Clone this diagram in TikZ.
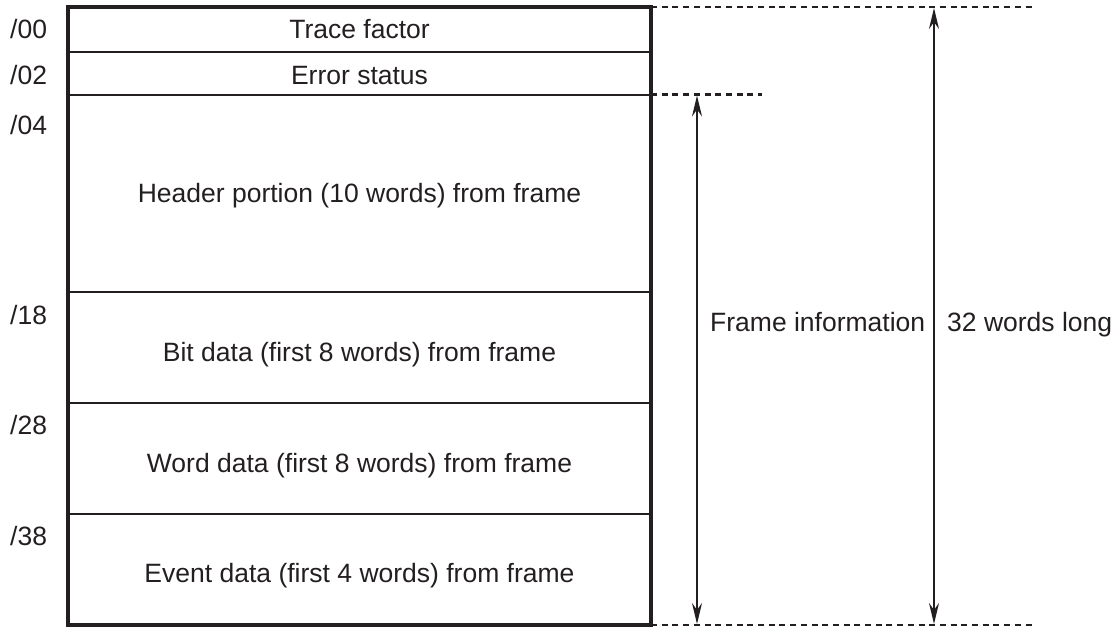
\documentclass[tikz,border=0pt]{standalone}
\usepackage{fontspec}
\setmainfont{Liberation Sans}
\usetikzlibrary{arrows.meta, positioning, calc}
\definecolor{inkgray}{HTML}{231F20}

\begin{document}
\begin{tikzpicture}[
        x=1pt, y=-1pt,
        field/.style={font=\fontsize{26.5}{30}\selectfont, text=inkgray,
                      inner sep=0pt, anchor=base},
        addr/.style={field, anchor=base west},
        rowline/.style={line width=2pt, color=inkgray},
        guide/.style={line width=2.2pt, color=inkgray,
                      dash pattern=on 6pt off 4.7pt},
        span/.style={line width=1.8pt, color=inkgray,
                     {Stealth[length=21pt, width=10pt, inset=7pt]}-{Stealth[length=21pt, width=10pt, inset=7pt]}}
      ]
      \useasboundingbox (0,0) rectangle (1119,627);
      % frame corners
      \coordinate (tl) at (68,7);
      \coordinate (br) at (651,625);
      \coordinate (tr) at (651,7);
      \coordinate (hdr) at (651,94.5);
      % rows
      \draw[rowline] (68,52) -- (651,52);
      \draw[rowline] (68,94.5) -- (hdr);
      \draw[rowline] (68,292) -- (651,292);
      \draw[rowline] (68,403) -- (651,403);
      \draw[rowline] (68,514) -- (651,514);
      \draw[line width=3.6pt, color=inkgray] (tl) rectangle (br);
      % field texts
      \node[field] (trace)  at (359.5,38)  {Trace factor};
      \node[field] (errst)  at (359.5,84)  {Error status};
      \node[field] (header) at (359.5,202) {Header portion (10 words) from frame};
      \node[field] (bitd)   at (359.5,361) {Bit data (first 8 words) from frame};
      \node[field] (wordd)  at (359.5,472) {Word data (first 8 words) from frame};
      \node[field] (eventd) at (359.5,582) {Event data (first 4 words) from frame};
      % addresses
      \node[addr] (a00) at (10,38)  {/00};
      \node[addr] (a02) at (10,84)  {/02};
      \node[addr] (a04) at (10,134) {/04};
      \node[addr] (a18) at (10,324) {/18};
      \node[addr] (a28) at (10,434) {/28};
      \node[addr] (a38) at (10,545) {/38};
      % extension lines
      \coordinate (toptail) at (1035,7);
      \coordinate (hdrtail) at (762,94.5);
      \coordinate (bottail) at (1035,625);
      \coordinate (bl) at (651,625);
      \draw[guide] (tr) -- (toptail);
      \draw[guide] (hdr) -- (hdrtail);
      \draw[guide] (bl) -- (bottail);
      % dimension arrows
      \coordinate (fi1) at (697,95.5);
      \coordinate (fi2) at (697,624);
      \coordinate (wl1) at (934,8);
      \coordinate (wl2) at (934,624);
      \draw[span] (fi1) -- (fi2);
      \draw[span] (wl1) -- (wl2);
      \node[field, anchor=base west] (frinfo) at (710,331) {Frame information};
      \node[field, anchor=base west] (wlong) at (947,331) {32 words long};
    \end{tikzpicture}
\end{document}
